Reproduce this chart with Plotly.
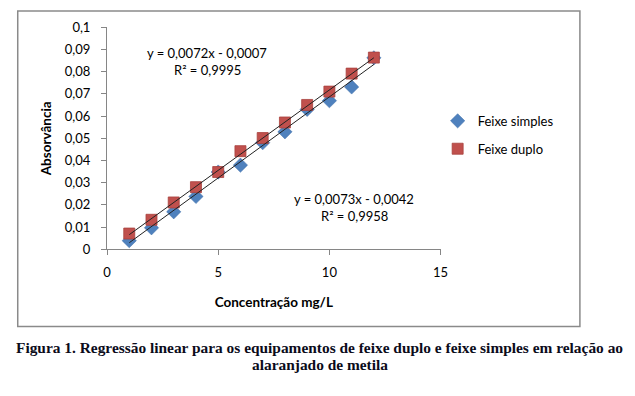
import numpy as np
import plotly.graph_objects as go

# Data
concentracao = [1, 2, 3, 4, 5, 6, 7, 8, 9, 10, 11, 12]
feixe_simples = [0.0039, 0.0097, 0.0169, 0.0238, 0.0348, 0.0379, 0.0480, 0.0529, 0.0630, 0.0669, 0.0731, 0.0862]
feixe_duplo = [0.0071, 0.0133, 0.0211, 0.0280, 0.0348, 0.0442, 0.0501, 0.0571, 0.0650, 0.0710, 0.0791, 0.0863]
y_tickvals = [0, 0.01, 0.02, 0.03, 0.04, 0.05, 0.06, 0.07, 0.08, 0.09, 0.1]
y_ticktext = ["0", "0,01", "0,02", "0,03", "0,04", "0,05", "0,06", "0,07", "0,08", "0,09", "0,1"]
x_tickvals = [0, 5, 10, 15]
x_ticktext = ["0", "5", "10", "15"]
eq_duplo = ["y = 0,0072x - 0,0007", "R² = 0,9995"]
eq_simples = ["y = 0,0073x - 0,0042", "R² = 0,9958"]
caption = ["Figura 1. Regressão linear para os equipamentos de feixe duplo e feixe simples em relação ao",
           "alaranjado de metila"]

W, H = 635, 396
FONT = "Lato, 'Open Sans', sans-serif"
AX = "#868686"

def px(x):
    return x / W

def py(y):
    return 1 - y / H

x = np.array(concentracao, dtype=float)
fits = {}
for name, ys in (("s", feixe_simples), ("d", feixe_duplo)):
    m, b = np.polyfit(x, np.array(ys), 1)
    fits[name] = (m, b)
xl = np.array([x.min(), x.max()])

fig = go.Figure()
fig.add_trace(go.Scatter(
    x=concentracao, y=feixe_simples, mode="markers", name="Feixe simples",
    legendgroup="a",
    marker=dict(symbol="diamond", size=11, color="#4F81BD", line=dict(color="#3F6FA8", width=0.5)),
))
fig.add_trace(go.Scatter(
    x=concentracao, y=feixe_duplo, mode="markers", name="Feixe duplo",
    legendgroup="b",
    marker=dict(symbol="square", size=11, color="#C0504D", line=dict(color="#A8413E", width=0.8)),
))
for k in ("s", "d"):
    m, b = fits[k]
    fig.add_trace(go.Scatter(
        x=xl, y=m * xl + b, mode="lines", showlegend=False, hoverinfo="skip",
        line=dict(color="#222222", width=1),
    ))

annotations = []
def txt(s, xc, yc, size=13, **kw):
    annotations.append(dict(text=s, x=px(xc), y=py(yc), xref="paper", yref="paper",
                            xanchor="center", yanchor="middle", showarrow=False,
                            font=dict(family=FONT, size=size, color="#000000"), **kw))

txt(eq_duplo[0], 207, 47)
txt(eq_duplo[1], 207, 65)
txt(eq_simples[0], 357, 199)
txt(eq_simples[1], 357, 217)
txt("<b>" + caption[0] + "</b>", 322, 354, size=15.4)
txt("<b>" + caption[1] + "</b>", 322, 372, size=15.4)
for a in annotations[-2:]:
    a["font"]["family"] = "'Liberation Serif', 'Times New Roman', serif"
    a["font"]["color"] = "#0b0b1a"

fig.update_layout(
    width=W, height=H,
    margin=dict(l=0, r=0, t=0, b=0),
    paper_bgcolor="white", plot_bgcolor="white",
    separators=", ",
    font=dict(family=FONT, size=13, color="#000000"),
    showlegend=True,
    legend=dict(x=px(442), y=py(102), xanchor="left", yanchor="top",
                font=dict(family=FONT, size=13, color="#000000"),
                traceorder="grouped", tracegroupgap=8, bgcolor="rgba(0,0,0,0)"),
    xaxis=dict(domain=[px(105), px(445)], range=[0, 15], tickvals=x_tickvals, ticktext=x_ticktext,
               showgrid=False, zeroline=False, showline=True, linecolor=AX, linewidth=1,
               ticks="outside", ticklen=5, tickcolor=AX, ticklabelstandoff=6,
               tickfont=dict(family=FONT, size=13),
               title=dict(text="<b>Concentração mg/L</b>", font=dict(family=FONT, size=13.5), standoff=18)),
    yaxis=dict(domain=[py(251.5), py(20)], range=[0, 0.1], tickvals=y_tickvals, ticktext=y_ticktext,
               showgrid=False, zeroline=False, showline=True, linecolor=AX, linewidth=1,
               ticks="outside", ticklen=5, tickcolor=AX, ticklabelstandoff=8,
               tickfont=dict(family=FONT, size=13),
               title=dict(text="<b>Absorvância</b>", font=dict(family=FONT, size=13.5), standoff=10)),
    shapes=[dict(type="rect", xref="paper", yref="paper",
                 x0=px(14), x1=px(587), y0=py(332), y1=py(3),
                 line=dict(color="#8A8A8A", width=1.5), fillcolor="rgba(0,0,0,0)", layer="below")],
    annotations=annotations,
)

fig.write_html("out.html", config={"displayModeBar": False},
               post_script="document.body.style.margin='0';document.body.style.overflow='hidden';")
